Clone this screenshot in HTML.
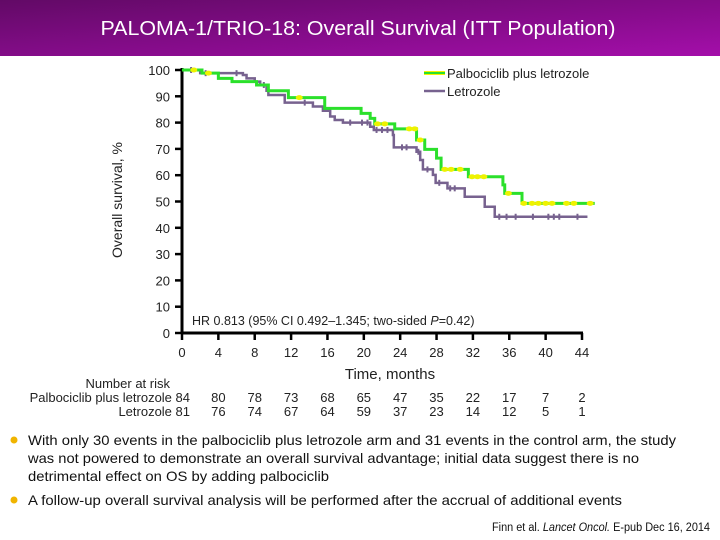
<!DOCTYPE html>
<html><head><meta charset="utf-8"><style>
html,body{margin:0;padding:0;background:#fff;}
svg{display:block;font-family:"Liberation Sans",Arial,sans-serif;}
</style></head><body>
<svg id="chart" width="720" height="540" viewBox="0 0 720 540">
<defs><linearGradient id="hg" x1="0" y1="0" x2="1" y2="1"><stop offset="0" stop-color="#620a66"/><stop offset="1" stop-color="#a40eaa"/></linearGradient></defs>
<rect x="0" y="0" width="720" height="56" fill="url(#hg)"/>
<text x="358" y="35" text-anchor="middle" fill="#fff" font-size="20" textLength="515" lengthAdjust="spacingAndGlyphs">PALOMA-1/TRIO-18: Overall Survival (ITT Population)</text>
<g id="plot"></g>
<text transform="translate(122,200) rotate(-90)" text-anchor="middle" font-size="14" fill="#222">Overall survival, %</text>
<text x="390" y="379" text-anchor="middle" font-size="15" fill="#222">Time, months</text>
<text x="192" y="325" font-size="12.5" fill="#222">HR 0.813 (95% CI 0.492–1.345; two-sided <tspan font-style="italic">P</tspan>=0.42)</text>
<g>
<line x1="424" y1="73" x2="445" y2="73" stroke="#f4f400" stroke-width="4"/><line x1="424" y1="73" x2="445" y2="73" stroke="#2be02b" stroke-width="2"/>
<text x="447" y="78" font-size="13" fill="#222">Palbociclib plus letrozole</text>
<line x1="424" y1="91" x2="445" y2="91" stroke="#77628f" stroke-width="2.5"/>
<text x="447" y="96" font-size="13" fill="#222">Letrozole</text>
</g>
<g id="risk" font-size="13" fill="#222">
<text x="170" y="388" text-anchor="end">Number at risk</text>
<text x="190" y="402" text-anchor="end">Palbociclib plus letrozole 84</text>
<text x="190" y="416" text-anchor="end">Letrozole 81</text>
</g>
<g font-family="'Liberation Sans Narrow','Liberation Sans',sans-serif" font-size="14" fill="#111">
<circle cx="14" cy="440" r="3.5" fill="#f0b400"/>
<text x="28" y="445" textLength="648" lengthAdjust="spacingAndGlyphs">With only 30 events in the palbociclib plus letrozole arm and 31 events in the control arm, the study</text>
<text x="28" y="463" textLength="611" lengthAdjust="spacingAndGlyphs">was not powered to demonstrate an overall survival advantage; initial data suggest there is no</text>
<text x="28" y="481" textLength="301" lengthAdjust="spacingAndGlyphs">detrimental effect on OS by adding palbociclib</text>
<circle cx="14" cy="500" r="3.5" fill="#f0b400"/>
<text x="28" y="505" textLength="594" lengthAdjust="spacingAndGlyphs">A follow-up overall survival analysis will be performed after the accrual of additional events</text>
<text x="710" y="531" font-size="11.5" text-anchor="end" textLength="218" lengthAdjust="spacingAndGlyphs">Finn et al. <tspan font-style="italic">Lancet Oncol.</tspan> E-pub Dec 16, 2014</text>
</g>
</svg>
<script>
const xTicks=[0,4,8,12,16,20,24,28,32,36,40,44];
const yTicks=[0,10,20,30,40,50,60,70,80,90,100];
const palboTimes=[0,2.2,4.0,5.5,8.2,9.5,11.7,15.7,19.7,20.7,21.2,23.4,25.8,26.7,28.0,28.5,31.5,35.3,35.5,37.4,45.4];
const palboSurv=[100,98.8,96.8,95.6,94.3,92.1,89.5,85.4,83.5,81.6,79.5,77.6,73.4,69.8,66.5,62.2,59.4,56.3,53.1,49.3,49.3];
const letroTimes=[0,2.0,6.7,7.1,8.0,8.6,9.3,9.5,11.3,14.4,15.5,16.3,16.8,17.7,20.7,21.1,23.2,23.3,25.8,26.2,26.5,27.6,27.9,29.2,31.1,33.3,34.4,44.6];
const letroSurv=[100,98.8,98.1,96.8,95.6,94.3,92.1,90.5,87.6,86.1,84.5,82.3,81,80,78.4,77.2,75.3,70.6,68.9,65.8,62.2,60.1,57.1,55,51.8,48,44.2,44.2];
const palboCensor=[1.3,2.9,12.9,21.5,22.3,25.0,25.6,26.2,28.9,29.6,30.6,31.9,32.5,33.2,35.9,37.6,38.5,39.2,40.0,40.7,42.3,43.1,44.9];
const letroCensor=[1.0,2.6,6.0,9.0,13.5,18.5,19.8,20.4,21.4,22.0,22.6,24.2,24.7,26.0,27.0,28.3,29.5,30.0,34.9,35.7,36.7,38.6,40.3,40.9,41.5,43.5];
const riskPalbo=[80,78,73,68,65,47,35,22,17,7,2];
const riskLetro=[76,74,67,64,59,37,23,14,12,5,1];
const NS='http://www.w3.org/2000/svg';
const X=t=>182+t*(400/44);
const Y=v=>333-v*2.63;
function mk(tag,attrs,parent){const e=document.createElementNS(NS,tag);for(const k in attrs)e.setAttribute(k,attrs[k]);parent.appendChild(e);return e;}
const plot=document.getElementById('plot');
const svg=document.getElementById('chart');
// axes
let ax=mk('line',{x1:X(0),y1:Y(0),x2:X(0),y2:Y(100)-2,stroke:'#000','stroke-width':3},plot);


let bx=mk('line',{x1:X(0)-1,y1:Y(0),x2:X(44)+1,y2:Y(0),stroke:'#000','stroke-width':3},plot);


yTicks.forEach(v=>{
  const t=mk('line',{x1:X(0)-7,y1:Y(v),x2:X(0),y2:Y(v),stroke:'#000','stroke-width':2.5},plot);
  
  
  const l=mk('text',{x:X(0)-12,y:Y(v)+5,'text-anchor':'end','font-size':13,fill:'#222'},plot);
  l.textContent=v;
  
  
});
xTicks.forEach(v=>{
  const t=mk('line',{x1:X(v),y1:Y(0),x2:X(v),y2:Y(0)+7,stroke:'#000','stroke-width':2.5},plot);
  
  
  const l=mk('text',{x:X(v),y:357,'text-anchor':'middle','font-size':13,fill:'#222'},plot);
  l.textContent=v;
  
  
});
function stepPath(ts,ss){let d='M'+X(ts[0])+' '+Y(ss[0]);for(let i=1;i<ts.length;i++){d+=' H'+X(ts[i])+' V'+Y(ss[i]);}return d;}
function survAt(ts,ss,t){let s=ss[0];for(let i=0;i<ts.length;i++){if(ts[i]<=t)s=ss[i];}return s;}
// letrozole
const lp=mk('path',{d:stepPath(letroTimes,letroSurv),fill:'none',stroke:'#77628f','stroke-width':2.5},plot);


letroCensor.forEach(t=>{const s=survAt(letroTimes,letroSurv,t);
  const c=mk('line',{x1:X(t),y1:Y(s)-3,x2:X(t),y2:Y(s)+3,stroke:'#77628f','stroke-width':2},plot);
  
  });
// palbociclib
const pg=mk('path',{d:stepPath(palboTimes,palboSurv),fill:'none',stroke:'#2be02b','stroke-width':3},plot);


palboCensor.forEach(t=>{const s=survAt(palboTimes,palboSurv,t);
  const c=mk('ellipse',{cx:X(t),cy:Y(s),rx:3.5,ry:2.5,fill:'#eef200'},plot);
  
  });
// risk table
const risk=document.getElementById('risk');
riskPalbo.forEach((v,i)=>{const l=mk('text',{x:X(xTicks[i+1]),y:402,'text-anchor':'middle'},risk);l.textContent=v;
  
  });
riskLetro.forEach((v,i)=>{const l=mk('text',{x:X(xTicks[i+1]),y:416,'text-anchor':'middle'},risk);l.textContent=v;
  
  });
</script>
</body></html>
